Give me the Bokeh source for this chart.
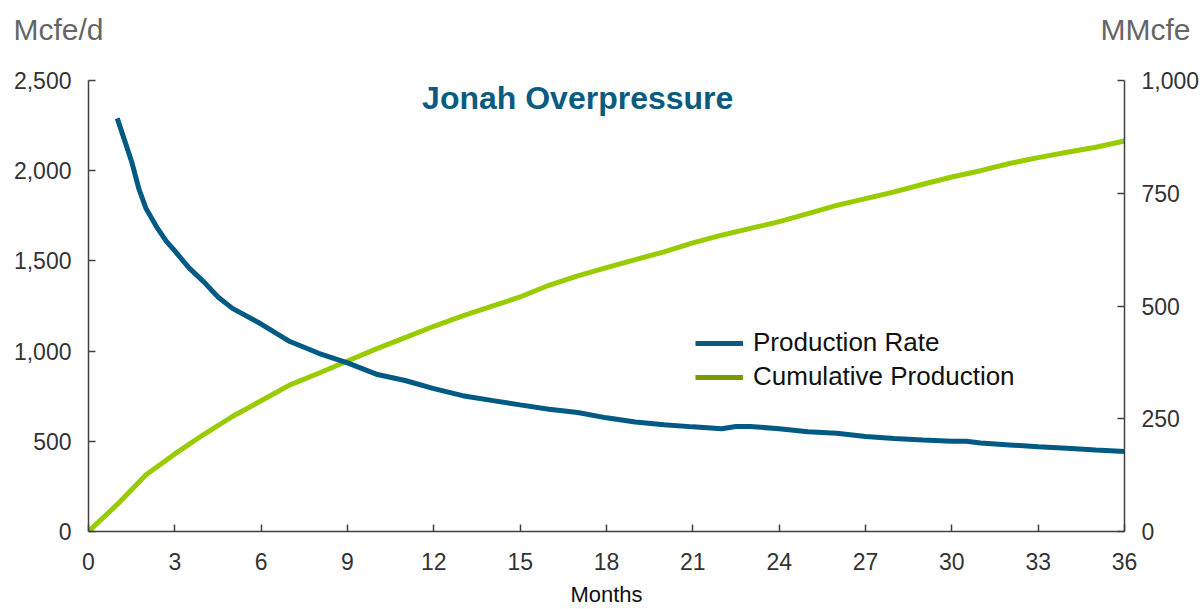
from bokeh.plotting import figure
from bokeh.models import (Range1d, LinearAxis, FixedTicker, NumeralTickFormatter,
                          Legend, LegendItem, Label)
from bokeh.embed import file_html
from bokeh.resources import INLINE

# ---- data ----
rate_months = [1, 1.5, 1.75, 2, 2.4, 2.7, 3, 3.5, 4, 4.5, 5, 6, 7, 8, 9, 10, 11, 12,
               13, 14, 15, 16, 17, 18, 19, 20, 21, 22, 22.5, 23, 24, 25, 26, 27, 28,
               29, 30, 30.5, 31, 32, 33, 34, 35, 36]
rate_mcfed = [2290, 2050, 1900, 1790, 1680, 1610, 1555, 1460, 1385, 1300, 1237, 1150,
              1053, 988, 935, 872, 837, 792, 753, 727, 702, 678, 660, 630, 607, 592,
              580, 570, 582, 582, 570, 553, 545, 527, 515, 507, 500, 500, 490, 480,
              470, 462, 452, 444]

cum_months = list(range(0, 37))
cum_mmcfe = [0, 60, 126, 172, 215, 255, 290, 325, 351, 378, 405, 430, 455, 478, 499,
             520, 546, 567, 585, 603, 620, 640, 657, 672, 687, 705, 723, 738, 753,
             770, 786, 800, 816, 829, 841, 852, 866]

x_ticks = list(range(0, 37, 3))
left_ticks = [0, 500, 1000, 1500, 2000, 2500]
right_ticks = [0, 250, 500, 750, 1000]

title_text = "Jonah Overpressure"
left_unit = "Mcfe/d"
right_unit = "MMcfe"
x_label = "Months"
series_names = ["Production Rate", "Cumulative Production"]

BLUE = "#005a84"
GREEN = "#99cc00"
GREEN_LEG = "#789b00"
TITLE_C = "#0b5b80"
AXIS_C = "#404040"
TEXT_C = "#333333"
UNIT_C = "#666666"
FONT = "Liberation Sans"

p = figure(width=1202, height=609, output_backend="svg", toolbar_location=None,
           x_range=Range1d(0, 36), y_range=Range1d(0, 2500),
           min_border_left=88, min_border_right=78, min_border_top=80,
           min_border_bottom=77)
p.extra_y_ranges = {"right": Range1d(0, 1000)}
p.outline_line_color = None
p.xgrid.visible = False
p.ygrid.visible = False
p.background_fill_color = "white"
p.border_fill_color = "white"

# lines
p.line(cum_months, cum_mmcfe, y_range_name="right", line_color=GREEN, line_width=5)
p.line(rate_months, rate_mcfed, line_color=BLUE, line_width=5)

# axes styling
def style_axis(ax):
    ax.axis_line_color = AXIS_C
    ax.axis_line_width = 1.5
    ax.major_tick_line_color = AXIS_C
    ax.major_tick_line_width = 1.5
    ax.major_tick_in = 7
    ax.major_tick_out = 0
    ax.minor_tick_line_color = None
    ax.major_label_text_font = FONT
    ax.major_label_text_font_size = "23px"
    ax.major_label_text_color = TEXT_C

xa = p.xaxis[0]
style_axis(xa)
xa.ticker = FixedTicker(ticks=x_ticks)
xa.major_label_standoff = 21
xa.axis_label = x_label
xa.axis_label_text_font = FONT
xa.axis_label_text_font_size = "22px"
xa.axis_label_text_font_style = "normal"
xa.axis_label_text_color = "#111111"
xa.axis_label_standoff = 9

ya = p.yaxis[0]
style_axis(ya)
ya.ticker = FixedTicker(ticks=left_ticks)
ya.formatter = NumeralTickFormatter(format="0,0")
ya.major_label_standoff = 17

ra = LinearAxis(y_range_name="right")
style_axis(ra)
ra.ticker = FixedTicker(ticks=right_ticks)
ra.formatter = NumeralTickFormatter(format="0,0")
ra.major_label_standoff = 17
p.add_layout(ra, "right")

# chart title inside the frame
p.add_layout(Label(x=17.0, y=2403, text=title_text, text_align="center",
                   text_baseline="alphabetic",
                   text_font=FONT, text_font_size="32px", text_font_style="bold",
                   text_color=TITLE_C))

# unit labels above the axes (side panel => not clipped to the frame)
p.add_layout(Label(x=-2.606, y=2782, text=left_unit, text_align="left",
                   text_baseline="alphabetic",
                   text_font=FONT, text_font_size="30px", text_color=UNIT_C), "above")
p.add_layout(Label(x=38.29, y=2782, text=right_unit, text_align="right",
                   text_baseline="alphabetic",
                   text_font=FONT, text_font_size="30px", text_color=UNIT_C), "above")

# legend (legend swatches use their own colours); dummy lines lie off-screen
d1 = p.line([-10, -9], [-100, -100], line_color=BLUE, line_width=5)
d2 = p.line([-10, -9], [-100, -100], line_color=GREEN_LEG, line_width=5)
legend = Legend(items=[LegendItem(label=series_names[0], renderers=[d1]),
                       LegendItem(label=series_names[1], renderers=[d2])],
                location=(607, 139))
legend.background_fill_alpha = 0
legend.border_line_color = None
legend.padding = 0
legend.margin = 0
legend.spacing = 3
legend.glyph_width = 48
legend.glyph_height = 30
legend.label_height = 30
legend.label_standoff = 10
legend.label_text_font = FONT
legend.label_text_font_size = "26px"
legend.label_text_color = "#111111"
p.add_layout(legend, "center")

open("out.html", "w").write(file_html(p, INLINE))
